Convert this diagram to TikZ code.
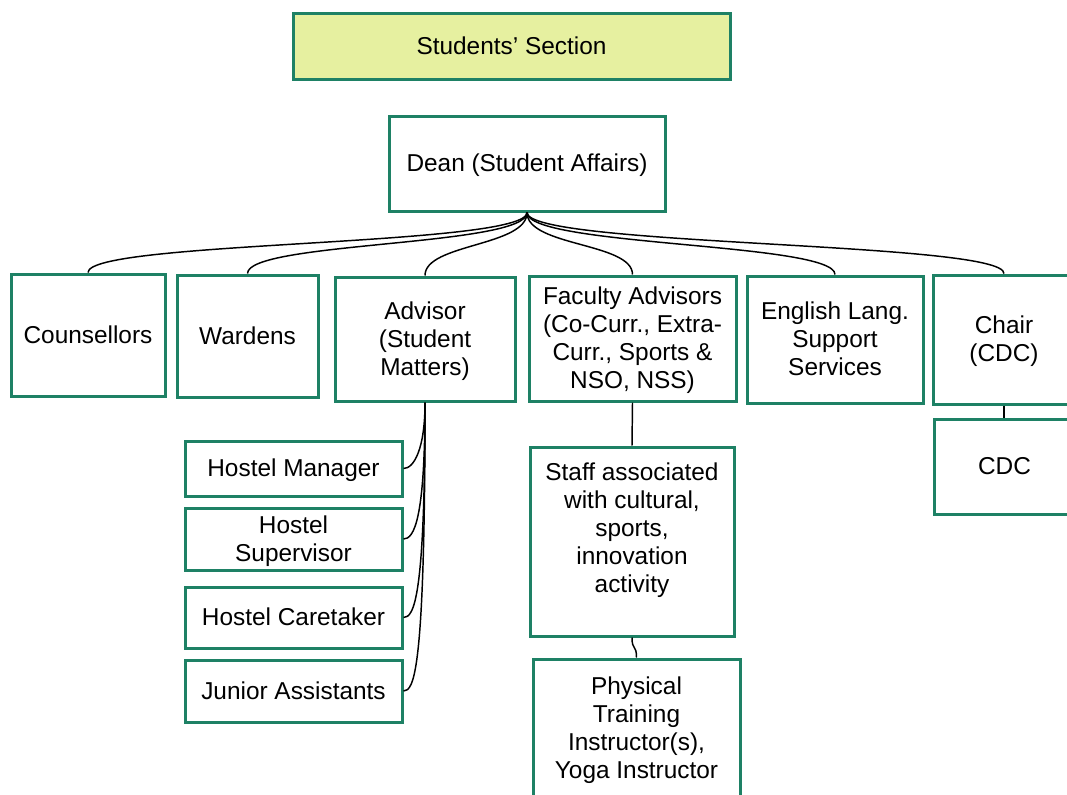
\documentclass[tikz,border=0pt]{standalone}
\usepackage{fontspec}
\setmainfont{Liberation Sans}
\definecolor{boxgreen}{RGB}{30,129,101}
\definecolor{titlefill}{RGB}{230,240,160}
\newcommand{\tst}{\rule{0pt}{16.56pt}}
\newcommand{\bst}{\rule[-3.88pt]{0pt}{3.88pt}}
\begin{document}
\begin{tikzpicture}[x=0.75pt,y=-0.75pt,
  txt/.style={align=center, font=\fontsize{18.3}{21}\selectfont},
  box/.style 2 args={txt, draw=boxgreen, line width=2.25pt, fill=white, rectangle,
    minimum width={#1*0.75pt}, minimum height={#2*0.75pt}, inner sep=0pt},
  conn/.style={draw=black, line width=1.1pt}]
\clip (0,0) rectangle (1067,794);
% boxes
\node[box={437}{66}, fill=titlefill] (title) at (511.5,46) {\tst Students’ Section\bst};
\node[box={276}{95}] (dean) at (527,163.5) {\tst Dean (Student Affairs)\bst};
\node[box={154}{122}] (couns) at (88,335) {\tst Counsellors\bst};
\node[box={141}{122}] (ward) at (247.5,336) {\tst Wardens\bst};
\node[box={180}{124}] (adv) at (425,339) {\tst Advisor\\(Student\\Matters)\bst};
\node[box={207}{125}] (fac) at (632.5,338.5) {\tst Faculty Advisors\\(Co-Curr., Extra-\\Curr., Sports \&\\NSO, NSS)\bst};
\node[box={176}{127}] (eng) at (835,339.5) {\tst English Lang.\\Support\\Services\bst};
\node[box={142}{129}] (chair) at (1004,339.5) {\tst Chair\\(CDC)\bst};
\node[box={141}{95}] (cdc) at (1004.5,466.5) {\tst CDC\bst};
\node[box={217}{55}] (hm) at (293.5,468.5) {\tst Hostel Manager\bst};
\node[box={217}{62}] (hs) at (293.5,539) {\tst Hostel\\Supervisor\bst};
\node[box={217}{61}] (hc) at (293.5,617.5) {\tst Hostel Caretaker\bst};
\node[box={217}{62}] (ja) at (293.5,691) {\tst Junior Assistants\bst};
\node[box={204}{189}, label={[name=stafftext, txt, yshift=10pt]center:{\tst Staff associated\\with cultural,\\sports,\\innovation\\activity\bst}}] (staff) at (632,541.5) {};
\node[box={207}{138}] (phys) at (636.5,728) {\tst Physical\\Training\\Instructor(s),\\Yoga Instructor\bst};
% connectors from Dean
\foreach \c in {couns,ward,adv,fac,eng,chair}{
  \draw[conn] (dean.south) .. controls ([yshift=-25.5pt]dean.south) and ([yshift=24pt]\c.north) .. (\c.north);
}
% connectors from Advisor
\foreach \c in {hm,hs,hc,ja}{
  \coordinate (tmp) at ([yshift=15pt]\c.east);
  \draw[conn] (adv.south) .. controls (adv.south |- tmp) and ([xshift=8pt]\c.east) .. (\c.east);
}
\draw[conn] (fac.south) -- (staff.north);
\draw[conn] (staff.south) .. controls ([yshift=-10pt]staff.south) and ([yshift=10pt]phys.north) .. (phys.north);
\draw[conn] (chair.south) -- (chair.south |- cdc.north);
\end{tikzpicture}
\end{document}
